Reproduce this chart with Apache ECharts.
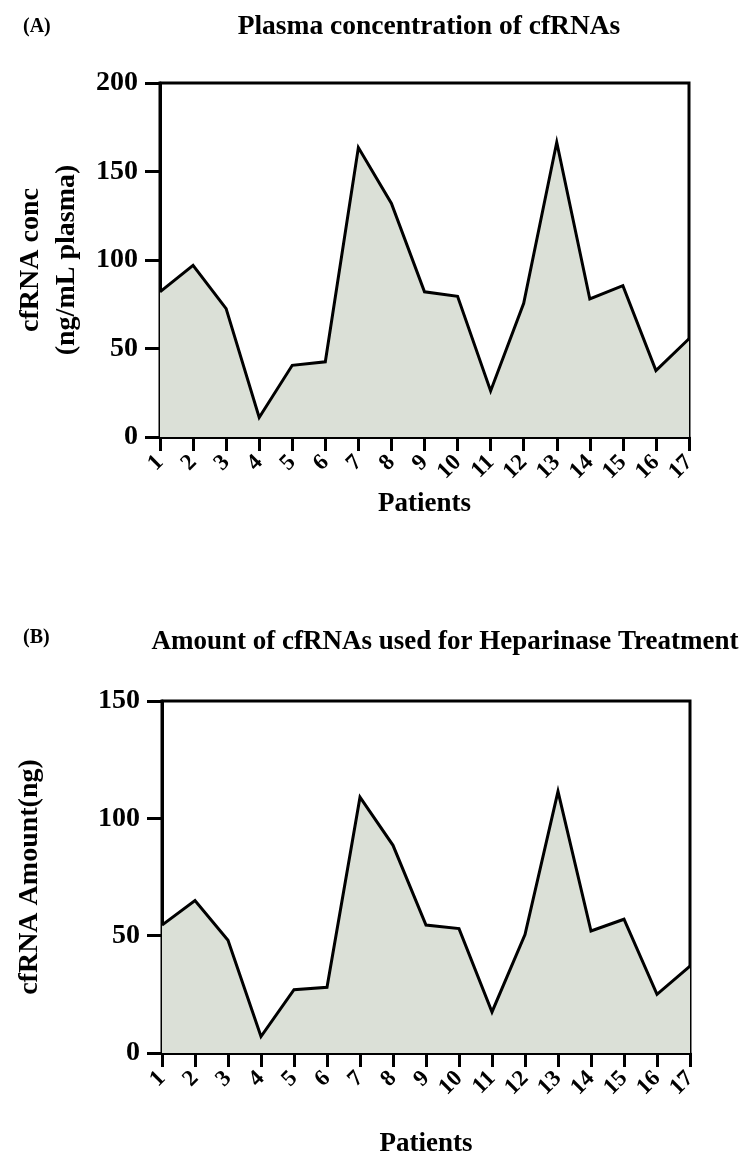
<!DOCTYPE html>
<html>
<head>
<meta charset="utf-8">
<script src="https://cdn.jsdelivr.net/npm/echarts@6/dist/echarts.min.js"></script>
<style>html,body{margin:0;padding:0;background:#fff}#c{width:740px;height:1172px}</style>
</head>
<body>
<div id="c"></div>
<script>
const patients = ['1','2','3','4','5','6','7','8','9','10','11','12','13','14','15','16','17'];
const concA = [82, 97, 72.5, 11, 40.5, 42.5, 163.5, 132, 82, 79.5, 26, 75.5, 166.5, 78, 85.5, 37.5, 55.5];
const amountB = [54.5, 65, 48, 7, 27, 28, 109, 88.5, 54.5, 53, 17.5, 50.5, 111.5, 52, 57, 25, 37];
const yTicksA = {min: 0, max: 200, interval: 50};
const yTicksB = {min: 0, max: 150, interval: 50};

const FONT = '"Liberation Serif", "Times New Roman", serif';
const BLACK = '#000';
const FILL = '#dbe0d7';

const chart = echarts.init(document.getElementById('c'), null, {renderer: 'canvas'});

function xAxisCfg(gridIndex, gap) {
  return {
    gridIndex, type: 'category', data: patients, boundaryGap: false,
    name: 'Patients', nameLocation: 'middle', nameGap: gap,
    nameTextStyle: {fontFamily: FONT, fontWeight: 'bold', fontSize: 27, color: BLACK},
    axisLine: {lineStyle: {color: BLACK, width: 3}},
    axisTick: {show: true, length: 14, lineStyle: {color: BLACK, width: 3}, alignWithLabel: true},
    axisLabel: {rotate: 45, margin: 22, fontFamily: FONT, fontWeight: 'bold', fontSize: 23, color: BLACK, interval: 0},
    splitLine: {show: false}
  };
}
function yAxisCfg(gridIndex, t, name, gap) {
  return {
    gridIndex, type: 'value', min: t.min, max: t.max, interval: t.interval,
    name, nameLocation: 'middle', nameGap: gap, nameRotate: 90,
    nameTextStyle: {fontFamily: FONT, fontWeight: 'bold', fontSize: 28, color: BLACK, lineHeight: 36},
    axisLine: {show: true, lineStyle: {color: BLACK, width: 3}},
    axisTick: {show: true, length: 15, lineStyle: {color: BLACK, width: 3}},
    axisLabel: {margin: 22, fontFamily: FONT, fontWeight: 'bold', fontSize: 28, color: BLACK},
    splitLine: {show: false}
  };
}
function seriesCfg(idx, data) {
  return {
    type: 'line', xAxisIndex: idx, yAxisIndex: idx, data,
    symbol: 'none', smooth: false,
    lineStyle: {color: BLACK, width: 3, join: 'miter'},
    areaStyle: {color: FILL, opacity: 1},
    z: 1
  };
}

chart.setOption({
  animation: false,
  backgroundColor: '#fff',
  title: [
    {text: '(A)', left: 18, top: 12, textStyle: {fontFamily: FONT, fontWeight: 'bold', fontSize: 20, color: BLACK}},
    {text: 'Plasma concentration of cfRNAs', left: 424, top: 8, textAlign: 'center',
     textStyle: {fontFamily: FONT, fontWeight: 'bold', fontSize: 27.5, color: BLACK}},
    {text: '(B)', left: 18, top: 623, textStyle: {fontFamily: FONT, fontWeight: 'bold', fontSize: 20, color: BLACK}},
    {text: 'Amount of cfRNAs used for Heparinase Treatment', left: 440, top: 624, textAlign: 'center',
     textStyle: {fontFamily: FONT, fontWeight: 'bold', fontSize: 27, color: BLACK}}
  ],
  grid: [
    {left: 160, right: 51, top: 83, height: 354, outerBoundsMode: 'none', containLabel: false,
     show: true, borderColor: BLACK, borderWidth: 3, backgroundColor: 'transparent'},
    {left: 162, right: 50, top: 701, height: 352, outerBoundsMode: 'none', containLabel: false,
     show: true, borderColor: BLACK, borderWidth: 3, backgroundColor: 'transparent'}
  ],
  xAxis: [xAxisCfg(0, 54), xAxisCfg(1, 78)],
  yAxis: [
    yAxisCfg(0, yTicksA, 'cfRNA conc\n(ng/mL plasma)', 75),
    yAxisCfg(1, yTicksB, 'cfRNA Amount(ng)', 114)
  ],
  series: [seriesCfg(0, concA), seriesCfg(1, amountB)]
});
</script>
</body>
</html>
